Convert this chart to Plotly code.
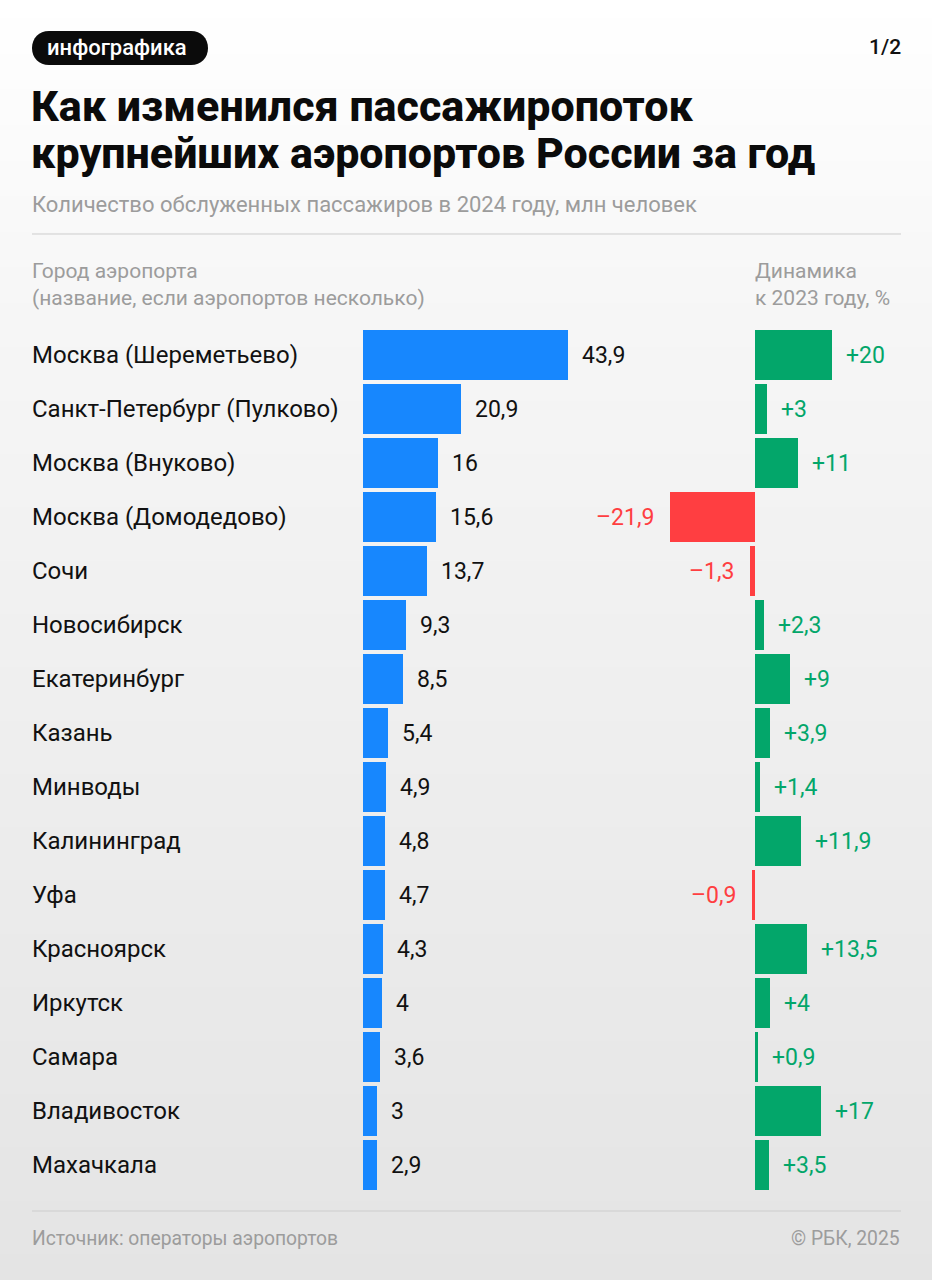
import plotly.graph_objects as go

# ---------------- data ----------------
cities = [
    "Москва (Шереметьево)", "Санкт-Петербург (Пулково)", "Москва (Внуково)",
    "Москва (Домодедово)", "Сочи", "Новосибирск", "Екатеринбург", "Казань",
    "Минводы", "Калининград", "Уфа", "Красноярск", "Иркутск", "Самара",
    "Владивосток", "Махачкала",
]
passengers = [43.9, 20.9, 16, 15.6, 13.7, 9.3, 8.5, 5.4, 4.9, 4.8, 4.7, 4.3, 4, 3.6, 3, 2.9]
change_pct = [20, 3, 11, -21.9, -1.3, 2.3, 9, 3.9, 1.4, 11.9, -0.9, 13.5, 4, 0.9, 17, 3.5]

title_lines = ["Как изменился пассажиропоток", "крупнейших аэропортов России за год"]
subtitle = "Количество обслуженных пассажиров в 2024 году, млн человек"
left_header = ["Город аэропорта", "(название, если аэропортов несколько)"]
right_header = ["Динамика", "к 2023 году, %"]
source = "Источник: операторы аэропортов"
copyright_txt = "© РБК, 2025"
badge = "инфографика"
page = "1/2"

# ---------------- style ----------------
W, H = 932, 1280
BLUE = "#1787fe"
GREEN = "#03a66a"
RED = "#ff3e41"
GRAY = "#9c9c9c"
FONT = "Roboto"

def px(x):
    return x / W

def py(y):
    return 1 - y / H

def fmt(v):
    return f"{v:g}".replace(".", ",")

def fmt_signed(v):
    return ("+" if v > 0 else "–") + fmt(abs(v))

# pixel geometry
row0, row_step = 355, 54
y_top = -row0 / row_step
y_bot = (H - row0) / row_step
L0, LSCALE = 363, 4.67       # left bars: baseline px, px per unit
R0, RSCALE = 755, 3.87       # right bars
L_dom = (L0, 630)
R_dom = (640, 890)

fig = go.Figure()

# background gradient
fig.add_trace(go.Heatmap(
    x=[0, 1], y=[0, 1], z=[[0, 0], [1, 1]], zsmooth="best",
    colorscale=[[0, "#e4e4e4"], [0.75, "#f6f6f6"], [1, "#ffffff"]],
    showscale=False, hoverinfo="skip", xaxis="x", yaxis="y",
))

# left bars
fig.add_trace(go.Bar(
    x=passengers, y=cities, orientation="h", marker_color=BLUE,
    marker_line_width=0, width=0.926, xaxis="x2", yaxis="y2", hoverinfo="skip",
))
# right bars
fig.add_trace(go.Bar(
    x=change_pct, y=cities, orientation="h",
    marker_color=[GREEN if v > 0 else RED for v in change_pct],
    marker_line_width=0, width=0.926, xaxis="x3", yaxis="y3", hoverinfo="skip",
))

hidden = dict(visible=False, showgrid=False, zeroline=False, fixedrange=True)
fig.update_layout(
    width=W, height=H, autosize=False,
    margin=dict(l=0, r=0, t=0, b=0, pad=0),
    paper_bgcolor="#ffffff", plot_bgcolor="rgba(0,0,0,0)",
    showlegend=False, bargap=0,
    font=dict(family=FONT, color="#111111"),
    xaxis=dict(domain=[0, 1], range=[0, 1], **hidden),
    yaxis=dict(domain=[0, 1], range=[0, 1], **hidden),
    xaxis2=dict(domain=[px(L_dom[0]), px(L_dom[1])], anchor="y2",
                range=[0, (L_dom[1] - L0) / LSCALE], **hidden),
    yaxis2=dict(domain=[0, 1], anchor="x2", type="category", categoryarray=cities,
                range=[y_bot, y_top], **hidden),
    xaxis3=dict(domain=[px(R_dom[0]), px(R_dom[1])], anchor="y3",
                range=[(R_dom[0] - R0) / RSCALE, (R_dom[1] - R0) / RSCALE], **hidden),
    yaxis3=dict(domain=[0, 1], anchor="x3", type="category", categoryarray=cities,
                range=[y_bot, y_top], **hidden),
)

ann = []
shapes = []

def text(x, y, s, size, color="#111111", anchor="left", weight=400, yanchor="middle"):
    ann.append(dict(x=px(x), y=py(y), xref="paper", yref="paper", text=s,
                    showarrow=False, xanchor=anchor, yanchor=yanchor,
                    font=dict(family=FONT, size=size, color=color, weight=weight)))

# badge
shapes.append(dict(type="path", xref="paper", yref="paper",
                   path=(f"M {px(49)},{py(31)} L {px(191)},{py(31)} "
                         f"C {px(201)},{py(31)} {px(208)},{py(38)} {px(208)},{py(48)} "
                         f"C {px(208)},{py(58)} {px(201)},{py(65)} {px(191)},{py(65)} "
                         f"L {px(49)},{py(65)} "
                         f"C {px(39)},{py(65)} {px(32)},{py(58)} {px(32)},{py(48)} "
                         f"C {px(32)},{py(38)} {px(39)},{py(31)} {px(49)},{py(31)} Z"),
                   fillcolor="#0b0b0b", line=dict(width=0), layer="above"))
text(117, 47, badge, 22, "#ffffff", "center", 500)
text(903, 47, page, 21, "#111111", "right", 500)

# title
text(29, 106, title_lines[0], 43, "#0b0b0b", "left", 800)
text(29, 153, title_lines[1], 43, "#0b0b0b", "left", 800)
text(30, 204, subtitle, 22, GRAY)

# separators
for yy in (234, 1211):
    shapes.append(dict(type="line", xref="paper", yref="paper",
                       x0=px(32), x1=px(901), y0=py(yy), y1=py(yy),
                       line=dict(color="#cdcdcd", width=1)))

# headers
text(30, 271, left_header[0], 21, GRAY)
text(30, 298, left_header[1], 21, GRAY)
text(753, 271, right_header[0], 21, GRAY)
text(753, 298, right_header[1], 21, GRAY)

# city names + values
for c, p, d in zip(cities, passengers, change_pct):
    ann.append(dict(x=px(30), y=c, xref="paper", yref="y2", text=c, showarrow=False,
                    xanchor="left", yanchor="middle",
                    font=dict(family=FONT, size=24, color="#111111")))
    ann.append(dict(x=p, y=c, xref="x2", yref="y2", text=fmt(p), showarrow=False,
                    xanchor="left", yanchor="middle", xshift=12,
                    font=dict(family=FONT, size=23, color="#111111")))
    ann.append(dict(x=d, y=c, xref="x3", yref="y3", text=fmt_signed(d), showarrow=False,
                    xanchor="left" if d > 0 else "right", yanchor="middle",
                    xshift=12 if d > 0 else -14,
                    font=dict(family=FONT, size=23, color=GREEN if d > 0 else RED)))

# footer
text(30, 1238, source, 19.3, GRAY)
text(902, 1238, copyright_txt, 19.3, GRAY, "right")

fig.update_layout(annotations=ann, shapes=shapes)
fig.write_html("out.html")
